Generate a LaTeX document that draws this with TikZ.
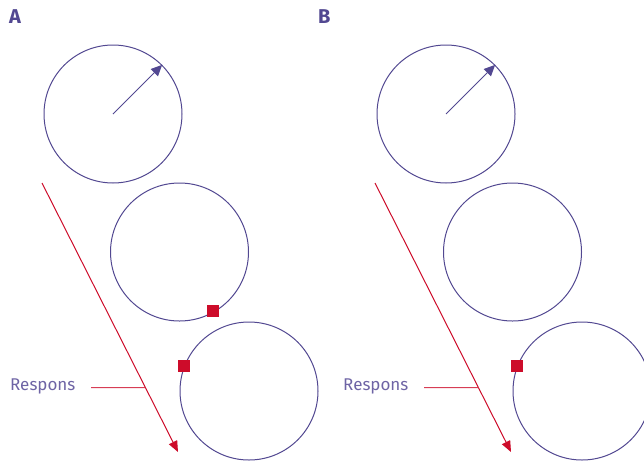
\documentclass[tikz,border=0pt]{standalone}
\usepackage{fontspec}
\setmainfont{Fira Sans}
\usetikzlibrary{arrows.meta,calc}
\definecolor{circ}{RGB}{82,72,145}
\definecolor{lbl}{RGB}{110,100,165}
\definecolor{rd}{RGB}{205,12,42}
\tikzset{
  ring/.style={circle,draw=circ,line width=1pt,minimum size=138pt,inner sep=0pt},
  radarrow/.style={draw=circ,line width=1pt,-{Triangle[length=11pt,width=10pt]}},
  sq/.style={rectangle,fill=rd,minimum size=12.5pt,inner sep=0pt},
  resparrow/.style={draw=rd,line width=1pt,-{Triangle[length=11pt,width=9pt]}},
  respline/.style={draw=rd!80,line width=1pt},
  panel/.style={text=circ,font=\bfseries\fontsize{20}{22}\selectfont,anchor=base west,inner sep=0pt},
  resp/.style={text=lbl,font=\fontsize{17}{19}\selectfont,anchor=base west,inner sep=0pt}
}
\begin{document}
\begin{tikzpicture}[x=1pt,y=-1pt]
\useasboundingbox (0,0) rectangle (644,461);
% Panel A
\node[panel] (la) at (9,23) {A};
\node[ring] (a1) at (113,114) {};
\node[ring] (a2) at (179.5,252) {};
\node[ring] (a3) at (249,391) {};
\draw[radarrow] (a1.center) -- (a1.45);
\coordinate (as) at (42,183);
\coordinate (ae) at (178,452);
\draw[resparrow] (as) -- (ae);
\node[sq] (aq1) at (213,311) {};
\node[sq] (aq2) at (184,366) {};
\node[resp] (ra) at (10,390) {Respons};
\coordinate (ac) at ($(as)!0.761!(ae)$);
\draw[respline] (91,387.7) coordinate (ab) -- (ac);
% Panel B
\node[panel] (lb) at (318,23) {B};
\node[ring] (b1) at (446,114) {};
\node[ring] (b2) at (512.5,252) {};
\node[ring] (b3) at (582,391) {};
\draw[radarrow] (b1.center) -- (b1.45);
\coordinate (bs) at (375,183);
\coordinate (be) at (511,452);
\draw[resparrow] (bs) -- (be);
\node[sq] (bq2) at (517,366) {};
\node[resp] (rb) at (343,390) {Respons};
\coordinate (bc) at ($(bs)!0.761!(be)$);
\draw[respline] (424,387.7) coordinate (bb) -- (bc);
\end{tikzpicture}
\end{document}
